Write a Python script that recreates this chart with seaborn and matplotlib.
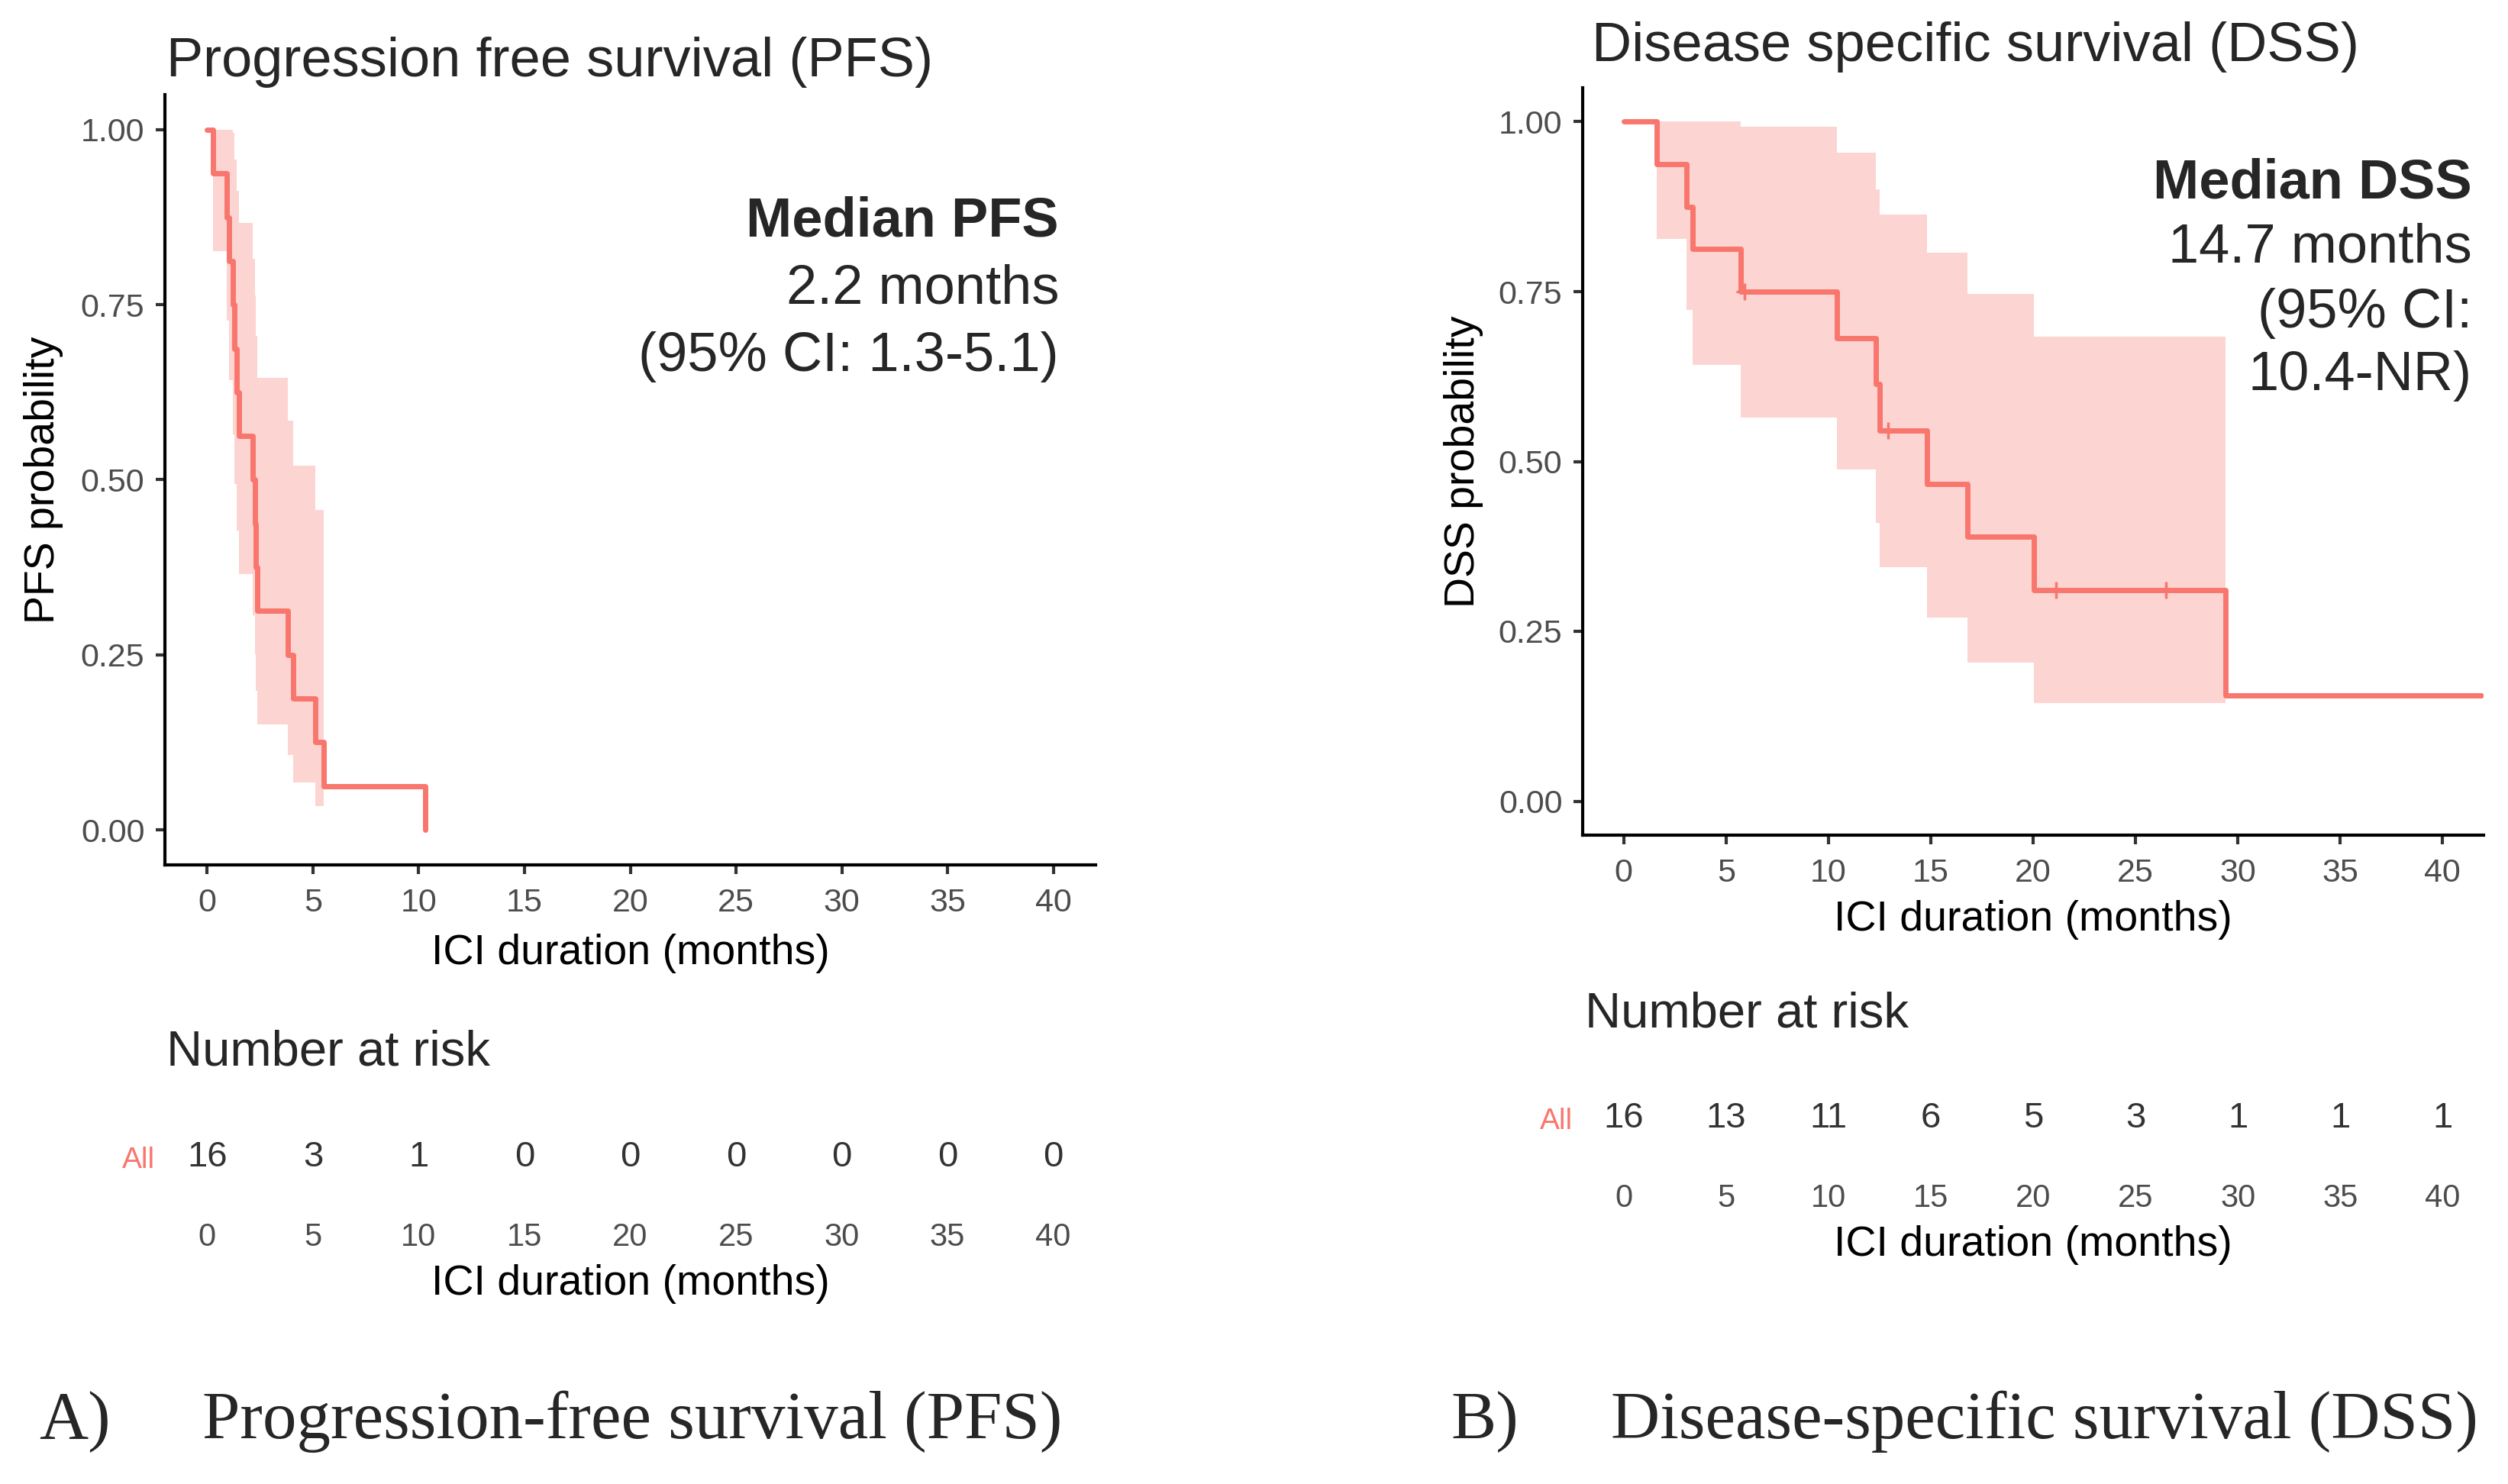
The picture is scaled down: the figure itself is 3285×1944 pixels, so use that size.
#!/usr/bin/env python3
"""
Kaplan-Meier curves for ICI duration: PFS (A) and DSS (B),
each with its number-at-risk table underneath.
"""

import matplotlib
matplotlib.use("Agg")
import matplotlib.pyplot as plt
import seaborn as sns

# =============================================================================
# Data
# =============================================================================
# PFS: step times (months) and survival after each step
pfs_time = [0, 0.26, 0.94, 1.05, 1.2, 1.3, 1.4, 1.5, 2.16, 2.25, 2.3, 2.38,
            3.8, 4.05, 5.1, 5.5, 10.3]
pfs_surv = [1.0, 0.9375, 0.875, 0.8125, 0.75, 0.6875, 0.625, 0.5625, 0.5,
            0.4375, 0.375, 0.3125, 0.25, 0.1875, 0.125, 0.0625, 0.0]
# 95% CI band, drawn up to 5.5 months
pfs_lower = [1.0, 0.826, 0.727, 0.642, 0.565, 0.494, 0.428, 0.365, 0.306,
             0.251, 0.199, 0.151, 0.107, 0.068, 0.034, 0.034]
pfs_upper = [1.0, 1.0, 1.0, 1.0, 0.995, 0.957, 0.913, 0.867, 0.816,
             0.763, 0.706, 0.646, 0.584, 0.520, 0.457, 0.457]

# DSS
dss_time = [0, 1.6, 3.07, 3.36, 5.7, 10.4, 12.3, 12.5, 14.8, 16.8, 20.05,
            29.4, 41.9]
dss_surv = [1.0, 0.9375, 0.875, 0.8125, 0.75, 0.682, 0.614, 0.545, 0.467,
            0.389, 0.311, 0.156, 0.156]
# 95% CI band, drawn up to 29.4 months
dss_lower = [1.0, 0.828, 0.723, 0.642, 0.565, 0.488, 0.41, 0.344, 0.270,
             0.204, 0.144, 0.144]
dss_upper = [1.0, 1.0, 1.0, 1.0, 0.993, 0.954, 0.90, 0.863, 0.807,
             0.747, 0.684, 0.684]
# censored observations
dss_cens_time = [5.9, 12.9, 21.1, 26.5]
dss_cens_surv = [0.75, 0.545, 0.311, 0.311]

# Number at risk
risk_months = [0, 5, 10, 15, 20, 25, 30, 35, 40]
pfs_at_risk = [16, 3, 1, 0, 0, 0, 0, 0, 0]
dss_at_risk = [16, 13, 11, 6, 5, 3, 1, 1, 1]

y_ticks = [0.0, 0.25, 0.50, 0.75, 1.00]
y_tick_labels = ['0.00', '0.25', '0.50', '0.75', '1.00']

# =============================================================================
# Style / layout
# =============================================================================
W, H, DPI = 3285, 1944, 100
RED = '#F8766D'
GREY_TXT = '#4D4D4D'
SANS = ['Liberation Sans', 'DejaVu Sans']
SERIF = ['Liberation Serif', 'DejaVu Serif']


def fx(px):
    return px / W


def fy(py):
    return 1 - py / H


def add_axes_px(fig, left, top, right, bottom):
    return fig.add_axes([fx(left), fy(bottom), (right - left) / W,
                         (bottom - top) / H])


def set_xlabel_at(ax, text, y_px):
    # x label centred on the axes, vertically placed in figure pixels
    bb = ax.get_position()
    ax.set_xlabel(text, fontsize=40, color='black')
    ax.xaxis.set_label_coords(bb.x0 + bb.width / 2, fy(y_px),
                              transform=ax.figure.transFigure)
    ax.xaxis.label.set_va('center')


def draw_km(ax, time, surv, lower, upper, cens_t=None, cens_s=None):
    n_band = len(lower)
    ax.fill_between(time[:n_band], lower, upper, step='post',
                    color=RED, alpha=0.3, linewidth=0)
    sns.lineplot(x=time, y=surv, ax=ax, color=RED, linewidth=5,
                 drawstyle='steps-post', estimator=None, sort=False)
    if cens_t is not None:
        sns.scatterplot(x=cens_t, y=cens_s, ax=ax, color=RED, marker='+',
                        s=260, linewidth=2.5, zorder=5)


def style_main(ax, ylabel, label_x, xlabel_y):
    ax.set_xlim(-2, 42)
    ax.set_ylim(-0.05, 1.05)
    ax.set_xticks(risk_months)
    ax.set_yticks(y_ticks)
    ax.set_yticklabels(y_tick_labels)
    for side in ['top', 'right']:
        ax.spines[side].set_visible(False)
    for side in ['left', 'bottom']:
        ax.spines[side].set_color('black')
        ax.spines[side].set_linewidth(3)
    ax.tick_params(axis='both', length=8.6, width=3, color='#333333',
                   labelsize=31, labelcolor=GREY_TXT)
    ax.tick_params(axis='x', pad=13)
    ax.tick_params(axis='y', pad=10.5)
    set_xlabel_at(ax, 'ICI duration (months)', xlabel_y)
    ax.set_ylabel(ylabel, fontsize=40, color='black')
    bb = ax.get_position()
    ax.yaxis.set_label_coords(fx(label_x), bb.y0 + bb.height / 2,
                              transform=ax.figure.transFigure)
    ax.yaxis.label.set_va('center')
    ax.grid(False)
    ax.set_facecolor('white')


def draw_risk(ax, counts, xlabel_y):
    ax.set_xlim(-2, 42)
    ax.set_ylim(0, 1)
    for n, t in zip(counts, risk_months):
        ax.text(t, 0.5, str(n), ha='center', va='center', fontsize=34,
                color='#333333')
    ax.set_xticks(risk_months)
    ax.set_yticks([0.5])
    ax.set_yticklabels(['All'])
    ax.get_yticklabels()[0].set_color(RED)
    ax.tick_params(axis='x', length=0, labelsize=30, labelcolor=GREY_TXT, pad=25)
    ax.tick_params(axis='y', length=0, labelsize=28, pad=9)
    for s in ax.spines.values():
        s.set_visible(False)
    set_xlabel_at(ax, 'ICI duration (months)', xlabel_y)
    ax.grid(False)
    ax.patch.set_alpha(0)


def main():
    sns.set_theme(style='ticks')
    plt.rcParams['font.family'] = SANS

    fig = plt.figure(figsize=(W / DPI, H / DPI), dpi=DPI)

    # ---------------- Panel A: PFS ----------------
    ax_a = add_axes_px(fig, 216, 124, 1435, 1133)
    draw_km(ax_a, pfs_time, pfs_surv, pfs_lower, pfs_upper)
    style_main(ax_a, 'PFS probability', label_x=57, xlabel_y=1249)
    fig.text(fx(218), fy(100), 'Progression free survival (PFS)',
             fontsize=52, va='baseline', ha='left')
    fig.text(fx(1387), fy(310), 'Median PFS', fontsize=52,
             fontweight='bold', ha='right', va='baseline')
    fig.text(fx(1387), fy(398), '2.2 months', fontsize=52,
             ha='right', va='baseline')
    fig.text(fx(1387), fy(486), '(95% CI: 1.3-5.1)', fontsize=52,
             ha='right', va='baseline')

    risk_a = add_axes_px(fig, 216, 1466, 1435, 1566)
    draw_risk(risk_a, pfs_at_risk, xlabel_y=1682)
    fig.text(fx(218), fy(1395), 'Number at risk', fontsize=47,
             va='baseline', ha='left')

    # ---------------- Panel B: DSS ----------------
    ax_b = add_axes_px(fig, 2073, 115, 3253, 1094)
    draw_km(ax_b, dss_time, dss_surv, dss_lower, dss_upper,
            dss_cens_time, dss_cens_surv)
    style_main(ax_b, 'DSS probability', label_x=1917, xlabel_y=1205)
    fig.text(fx(2085), fy(80), 'Disease specific survival (DSS)',
             fontsize=52, va='baseline', ha='left')
    for txt, yb, bold in [('Median DSS', 260, True), ('14.7 months', 344, False),
                          ('(95% CI:', 429, False), ('10.4-NR)', 511, False)]:
        fig.text(fx(3238), fy(yb), txt, fontsize=52, ha='right', va='baseline',
                 fontweight='bold' if bold else 'normal')

    risk_b = add_axes_px(fig, 2073, 1415, 3253, 1515)
    draw_risk(risk_b, dss_at_risk, xlabel_y=1631)
    fig.text(fx(2076), fy(1345), 'Number at risk', fontsize=47,
             va='baseline', ha='left')

    # ---------------- Captions ----------------
    for x, txt in [(51, 'A)'), (265, 'Progression-free survival (PFS)'),
                   (1900, 'B)'), (2110, 'Disease-specific survival (DSS)')]:
        fig.text(fx(x), fy(1884), txt, fontsize=64, family=SERIF,
                 va='baseline', ha='left')

    fig.savefig('out.png', dpi=DPI, facecolor='white')
    plt.close(fig)


if __name__ == '__main__':
    main()
